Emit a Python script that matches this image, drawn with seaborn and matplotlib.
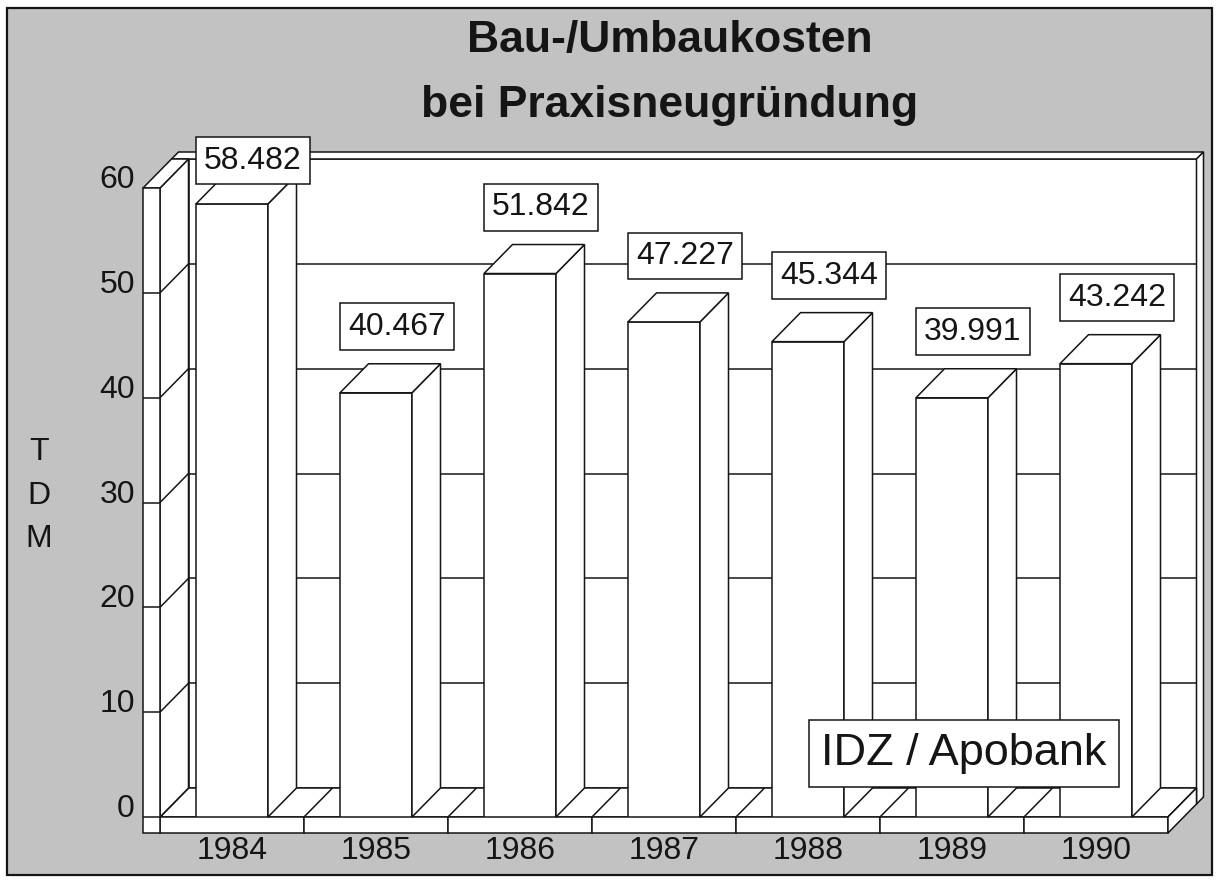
import numpy as np
import pandas as pd
import seaborn as sns
import matplotlib.pyplot as plt
from matplotlib.patches import Polygon, Rectangle

# data (TDM)
years = ['1984', '1985', '1986', '1987', '1988', '1989', '1990']
values = [58.482, 40.467, 51.842, 47.227, 45.344, 39.991, 43.242]
yticks = [0, 10, 20, 30, 40, 50, 60]
title_lines = ['Bau-/Umbaukosten', 'bei Praxisneugründung']
source = 'IDZ / Apobank'

INK = '#151515'
GRAY = '#c2c2c2'
LW = 1.1

sns.set_theme(style='white')
plt.rcParams['font.family'] = ['Liberation Sans', 'DejaVu Sans']

fig = plt.figure(figsize=(12.18, 8.8), dpi=100, facecolor='white')
frame = Rectangle((7 / 1218, 5 / 880), 1205 / 1218, 867 / 880, transform=fig.transFigure,
                  facecolor=GRAY, edgecolor=INK, lw=1.6, zorder=-1)
fig.add_artist(frame)

ax = fig.add_axes([160 / 1218, 63 / 880, 1008 / 1218, 629 / 880])
ax.patch.set_visible(False)

df = pd.DataFrame({'year': years, 'tdm': values})
sns.barplot(data=df, x='year', y='tdm', color='white', saturation=1, width=0.5,
            edgecolor=INK, linewidth=LW, errorbar=None, ax=ax, zorder=4)
bars = list(ax.patches)

ax.set_xlim(-0.5, len(years) - 0.5)
ax.set_ylim(yticks[0], yticks[-1])
sns.despine(ax=ax, left=True, bottom=True)
ax.set_xlabel('')
ax.set_ylabel('')
ax.set_yticks(yticks)
ax.set_yticklabels([str(t) for t in yticks], va='baseline')
ax.tick_params(axis='y', length=0, pad=18, labelsize=23, labelcolor=INK)
ax.tick_params(axis='x', length=0, pad=14, labelsize=23, labelcolor=INK)

# depth of the fake 3d box, in data units
(x0, y0), (x1, y1) = ax.transData.transform([(0, 0), (1, 1)])
px_x, px_y = x1 - x0, y1 - y0
dx, dy = 0.285 * fig.dpi / px_x, 0.29 * fig.dpi / px_y
wall_w = 0.17 * fig.dpi / px_x
floor_h = 0.16 * fig.dpi / px_y
ex, ey = 0.07 * fig.dpi / px_x, 0.07 * fig.dpi / px_y
xl, xr, top = -0.5, len(years) - 0.5, yticks[-1]


def poly(pts, z):
    ax.add_patch(Polygon(pts, closed=True, facecolor='white', edgecolor=INK, lw=LW,
                         zorder=z, clip_on=False, joinstyle='miter'))


def line(xs, ys, z):
    ax.plot(xs, ys, color=INK, lw=LW, zorder=z, clip_on=False, solid_capstyle='butt')


# back wall with its thin top ledge and right edge
poly([(xl + dx, dy), (xr + dx, dy), (xr + dx, top + dy), (xl + dx, top + dy)], 1)
poly([(xl - wall_w + dx, top + dy), (xr + dx, top + dy), (xr + dx + ex, top + dy + ey),
      (xl - wall_w + dx + ex, top + dy + ey)], 1)
poly([(xr + dx, dy - floor_h), (xr + dx, top + dy), (xr + dx + ex, top + dy + ey),
      (xr + dx + ex, dy - floor_h + ey)], 1)

# floor
poly([(xl, 0), (xr, 0), (xr + dx, dy), (xl + dx, dy)], 2)
for i in range(len(years) + 1):
    line([xl + i, xl + i + dx], [0, dy], 2.5)
for i in range(len(years)):
    ax.add_patch(Rectangle((xl + i, -floor_h), 1, floor_h, facecolor='white', edgecolor=INK,
                           lw=LW, zorder=3, clip_on=False))
poly([(xr, -floor_h), (xr, 0), (xr + dx, dy), (xr + dx, dy - floor_h)], 3)

# left wall
poly([(xl, 0), (xl, top), (xl + dx, top + dy), (xl + dx, dy)], 3)
poly([(xl - wall_w, top), (xl, top), (xl + dx, top + dy), (xl - wall_w + dx, top + dy)], 3)
ax.add_patch(Rectangle((xl - wall_w, -floor_h), wall_w, top + floor_h, facecolor='white',
                       edgecolor=INK, lw=LW, zorder=3, clip_on=False))

# grid lines on wall front, wall side and back wall
for t in yticks[:-1]:
    line([xl - wall_w, xl], [t, t], 3.5)
    if t > 0:
        line([xl, xl + dx], [t, t + dy], 3.5)
        line([xl + dx, xr + dx], [t + dy, t + dy], 1.5)

# side and top faces of the bars
for p in bars:
    x, w, h = p.get_x(), p.get_width(), p.get_height()
    poly([(x + w, 0), (x + w, h), (x + w + dx, h + dy), (x + w + dx, dy)], 4)
    poly([(x, h), (x + w, h), (x + w + dx, h + dy), (x + dx, h + dy)], 4)

# value boxes
for i, v in enumerate(values):
    ax.text(i + 0.146, min(v + 6.3, 62.6), f'{v:.3f}', ha='center', va='center',
            fontsize=23, color=INK, zorder=6, clip_on=False,
            bbox=dict(boxstyle='square,pad=0.26', facecolor='white', edgecolor=INK, lw=LW))

ax.text(0.7976, 0.101, source, transform=ax.transAxes, ha='center', va='center',
        fontsize=32.5, color=INK, zorder=6,
        bbox=dict(boxstyle='square,pad=0.28', facecolor='white', edgecolor=INK, lw=LW))

# title and unit
fig.text(670 / 1218, 1 - 52 / 880, title_lines[0], ha='center', va='baseline',
         fontsize=32, fontweight='bold', color=INK)
fig.text(670 / 1218, 1 - 117 / 880, title_lines[1], ha='center', va='baseline',
         fontsize=32, fontweight='bold', color=INK)
for k, ch in enumerate('TDM'):
    fig.text(39 / 1218, 1 - (460 + 43.5 * k) / 880, ch, ha='center', va='baseline',
             fontsize=23, color=INK)

fig.savefig('out.png', dpi=100)
